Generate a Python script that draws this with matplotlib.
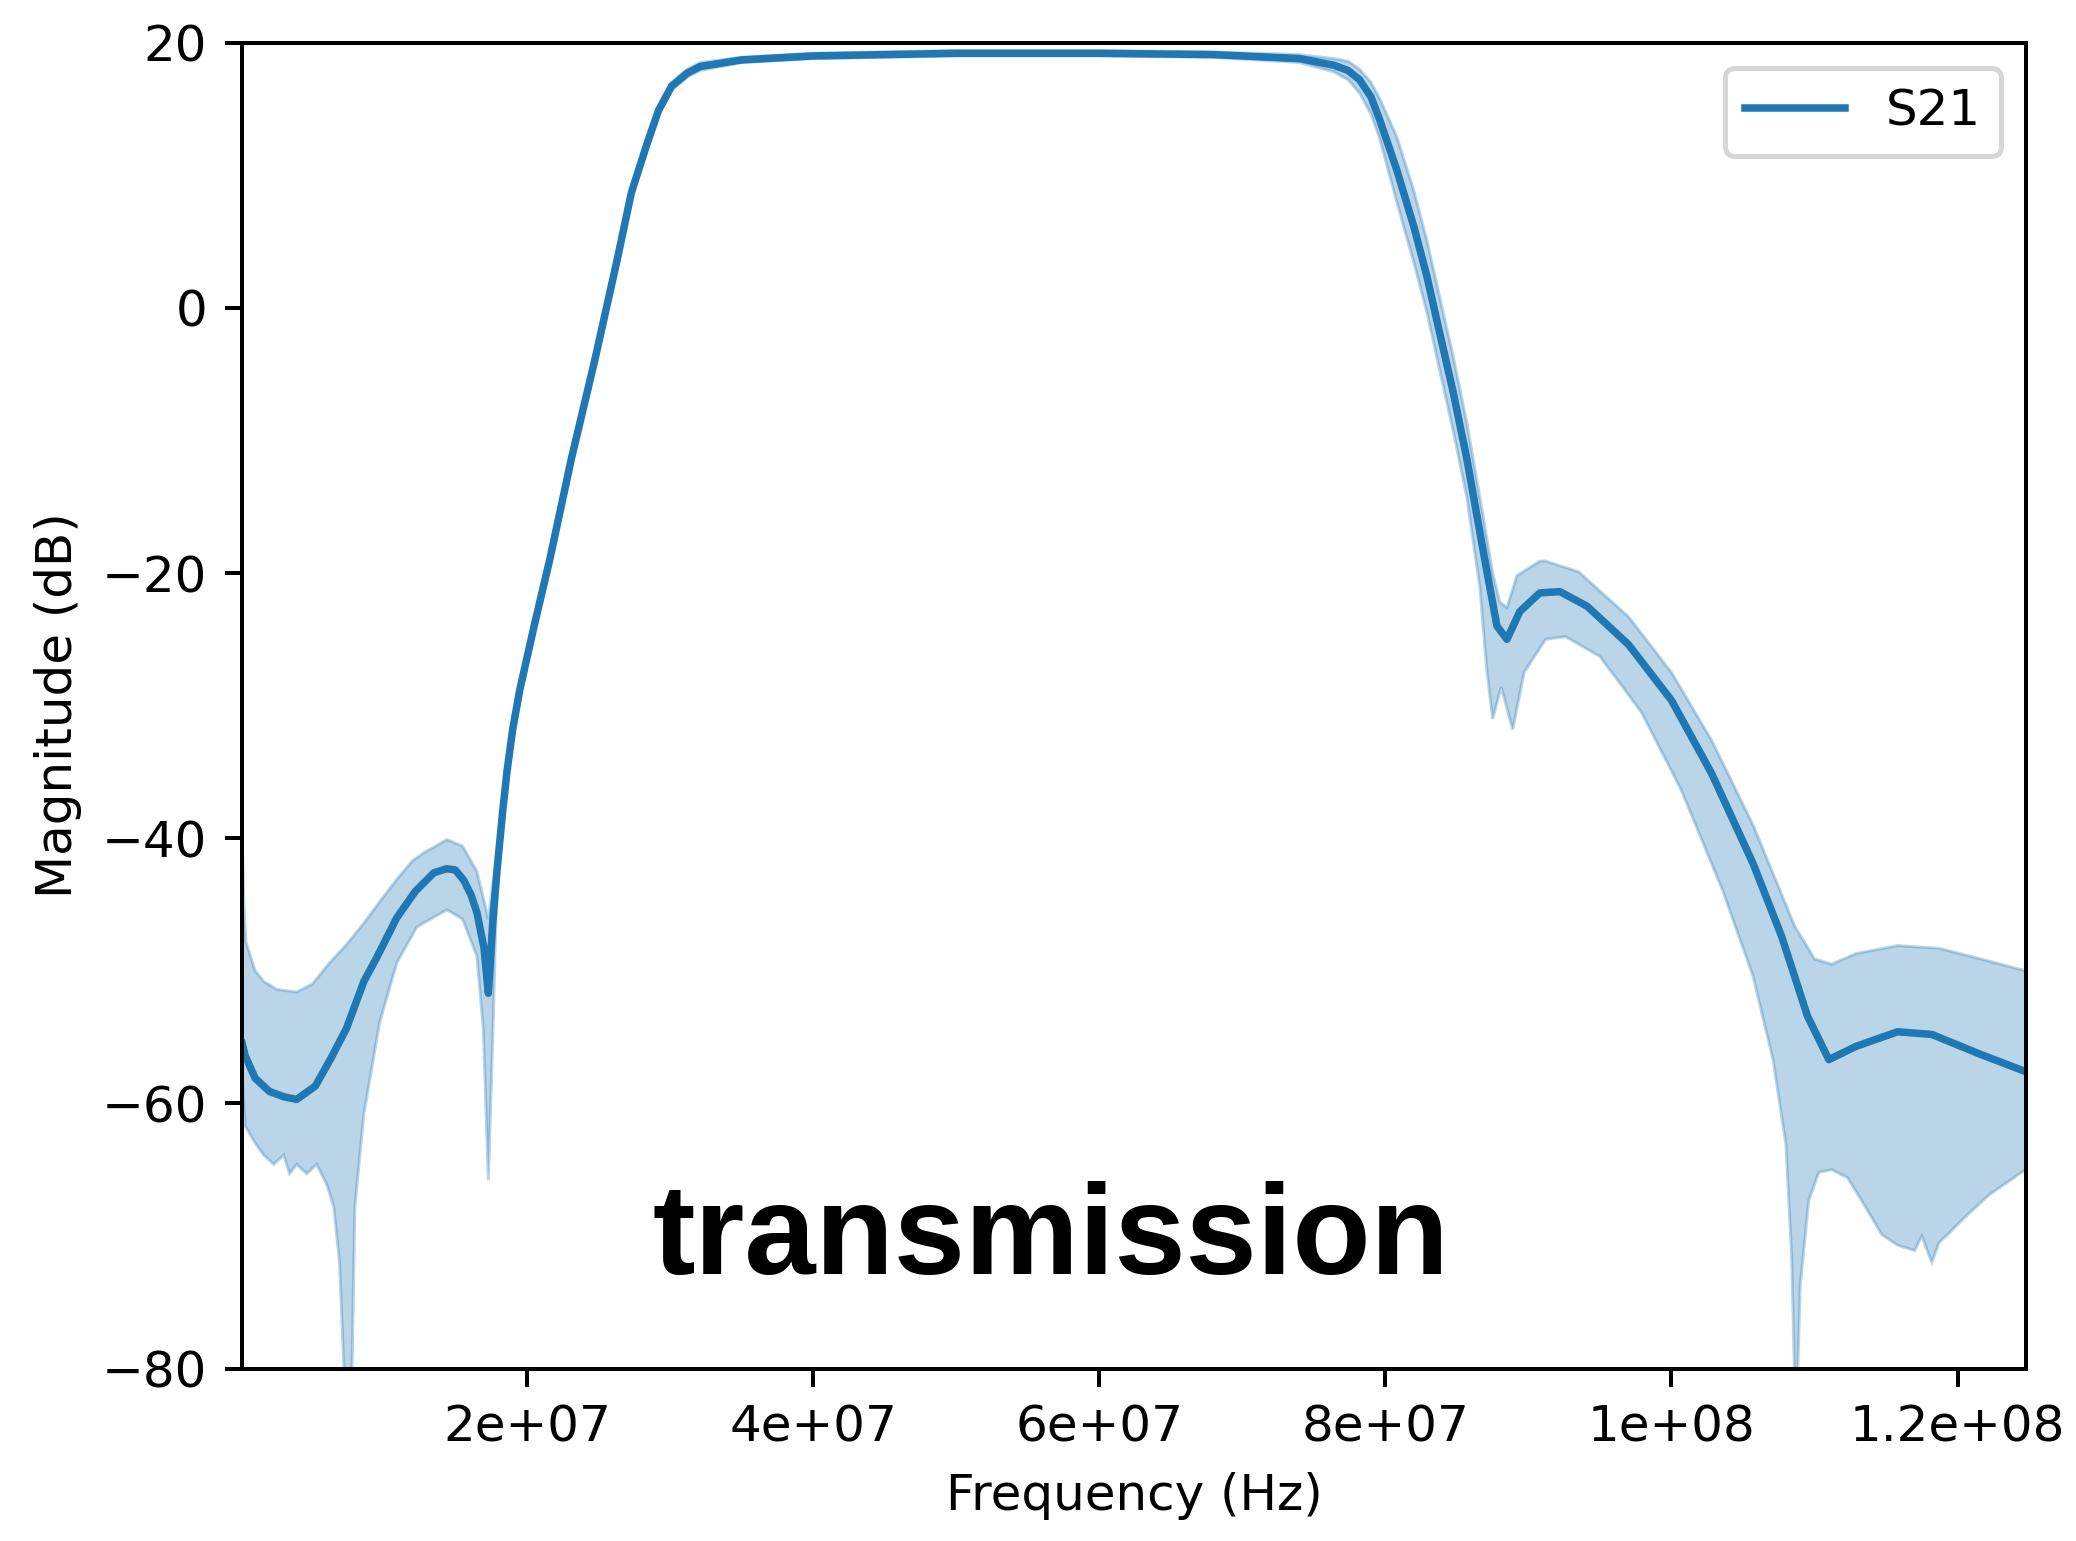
import matplotlib.pyplot as plt
import numpy as np
from matplotlib.ticker import FormatStrFormatter

# mean S21 trace (MHz, dB)
freq_mean = [0.1, 0.3, 1.0, 2.0, 3.0, 3.9, 5.2, 6.3, 7.4, 8.6, 9.5, 10.9, 12.2, 13.5, 14.4,
             15.0, 15.6, 16.1, 16.5, 17.0, 17.3, 17.6, 17.9, 18.3, 18.6, 19.0, 19.5, 20.5,
             21.6, 23.1, 24.75, 26.3, 27.3, 28.4, 29.2, 30.1, 31.2, 32.1, 35.0, 40.0, 50.0,
             60.0, 68.0, 74.0, 76.4, 77.4, 78.2, 79.0, 79.6, 80.8, 82.0, 82.9, 83.8, 84.75,
             85.7, 86.85, 87.8, 88.5, 89.4, 90.8, 92.2, 94.1, 95.0, 97.0, 100.0, 102.8, 105.7,
             107.7, 109.5, 111.0, 112.9, 115.8, 118.2, 121.6, 124.75]
s21_mean = [-55.5, -56.4, -58.1, -59.1, -59.5, -59.7, -58.7, -56.6, -54.3, -50.8, -49.0,
            -46.0, -44.0, -42.6, -42.3, -42.4, -43.2, -44.3, -45.6, -48.3, -51.7, -46.5,
            -42.5, -38.0, -35.0, -31.8, -28.8, -24.0, -18.95, -11.4, -3.9, 3.6, 8.7, 12.4,
            14.9, 16.7, 17.7, 18.2, 18.7, 19.0, 19.2, 19.2, 19.1, 18.8, 18.3, 17.9, 17.2,
            15.9, 14.2, 10.4, 6.1, 2.4, -1.9, -6.4, -11.4, -18.4, -24.0, -25.0, -22.9, -21.5,
            -21.4, -22.5, -23.4, -25.4, -29.6, -35.1, -41.9, -47.4, -53.4, -56.7, -55.7,
            -54.6, -54.8, -56.3, -57.6]

# upper edge of spread
freq_upper = [0.1, 0.2, 0.35, 1.0, 1.6, 2.5, 3.9, 5.0, 6.2, 7.4, 8.6, 9.7, 10.9, 12.0, 12.8,
              14.4, 15.5, 16.5, 17.06, 17.3, 17.6, 17.9, 18.3, 18.6, 19.0, 19.5, 20.5, 21.6,
              23.1, 24.75, 26.3, 27.3, 28.4, 29.2, 30.1, 31.2, 32.1, 35.0, 40.0, 50.0, 60.0,
              68.0, 74.0, 76.4, 77.4, 78.2, 79.0, 79.6, 80.8, 82.0, 82.9, 83.8, 84.75, 85.7,
              86.85, 87.5, 88.0, 88.5, 89.2, 90.8, 91.2, 93.5, 97.0, 100.0, 102.8, 105.7,
              108.6, 110.0, 111.2, 112.9, 115.8, 118.7, 121.6, 124.75]
s21_upper = [-40.0, -44.5, -47.8, -50.0, -50.8, -51.4, -51.6, -51.0, -49.4, -48.0, -46.4,
             -44.8, -43.1, -41.7, -41.1, -40.1, -40.6, -42.5, -45.0, -46.1, -43.5, -41.7,
             -37.4, -34.4, -31.3, -28.3, -23.5, -18.5, -11.0, -3.5, 4.0, 9.1, 12.8, 15.2,
             17.0, 18.0, 18.5, 18.9, 19.2, 19.4, 19.4, 19.3, 19.1, 18.8, 18.6, 18.0, 17.0,
             15.8, 12.9, 8.8, 5.1, 0.8, -3.7, -8.7, -15.8, -20.0, -22.2, -22.6, -20.2, -19.1,
             -19.1, -19.9, -23.3, -27.5, -32.6, -39.0, -46.6, -49.1, -49.5, -48.7, -48.1,
             -48.3, -49.1, -50.0]

# lower edge of spread
freq_lower = [0.1, 0.3, 1.0, 1.6, 2.3, 3.0, 3.4, 3.9, 4.6, 5.3, 6.0, 6.5, 6.9, 7.28, 7.74,
              7.97, 8.6, 9.7, 10.9, 12.3, 14.4, 15.5, 16.5, 16.95, 17.3, 17.64, 17.9, 18.3,
              18.6, 19.0, 19.5, 20.5, 21.6, 23.1, 24.75, 26.3, 27.3, 28.4, 29.2, 30.1, 31.2,
              32.1, 35.0, 40.0, 50.0, 60.0, 68.0, 74.0, 76.4, 77.4, 78.2, 79.0, 79.6, 80.8,
              82.0, 82.9, 83.8, 84.75, 85.7, 86.6, 87.1, 87.5, 88.1, 88.9, 89.7, 91.2, 92.6,
              95.0, 97.9, 100.7, 103.6, 105.7, 107.1, 108.0, 108.4, 108.7, 109.0, 109.6, 110.3,
              111.2, 112.3, 113.5, 114.7, 115.8, 117.0, 117.5, 118.2, 118.7, 119.3, 120.5,
              122.2, 124.75]
s21_lower = [-58.0, -61.7, -63.0, -63.9, -64.6, -63.9, -65.3, -64.6, -65.3, -64.6, -66.1,
             -67.8, -72.0, -82.0, -82.0, -67.8, -60.8, -53.9, -49.4, -46.7, -45.4, -46.1,
             -48.9, -54.4, -65.8, -53.9, -43.4, -38.6, -35.6, -32.3, -29.3, -24.5, -19.4,
             -11.8, -4.3, 3.2, 8.3, 12.0, 14.6, 16.4, 17.4, 17.9, 18.5, 18.8, 19.0, 19.0,
             18.9, 18.5, 17.8, 17.2, 16.2, 14.6, 12.8, 8.0, 3.4, -0.3, -4.7, -9.3, -14.3,
             -21.0, -27.4, -31.0, -28.6, -31.8, -27.5, -25.0, -24.8, -26.3, -30.5, -36.4,
             -44.0, -50.4, -56.7, -63.1, -71.5, -85.0, -73.7, -67.3, -65.2, -65.0, -65.6,
             -67.7, -69.9, -70.7, -71.1, -70.0, -72.0, -70.5, -69.9, -68.6, -66.9, -65.0]

fm = np.array(freq_mean) * 1e6
fu = np.array(freq_upper) * 1e6
fl = np.array(freq_lower) * 1e6

fig = plt.figure(figsize=(2076 / 360, 1541 / 360), dpi=360)
ax = fig.add_axes([0.1167, 0.1119, 0.8590, 0.8604])

ax.fill(np.concatenate([fu, fl[::-1]]), np.concatenate([s21_upper, s21_lower[::-1]]),
        color='tab:blue', alpha=0.3, linewidth=0.6)
ax.plot(fm, s21_mean, color='tab:blue', label='S21')

ax.set_xlim(fm[0], fm[-1])
ax.set_ylim(-80, 20)
ax.xaxis.set_major_formatter(FormatStrFormatter('%g'))
ax.set_xlabel('Frequency (Hz)')
ax.set_ylabel('Magnitude (dB)')
ax.legend(loc='upper right')

fig.text(0.506, 0.173, 'transmission', fontsize=25.6, fontweight='bold',
         family='Liberation Sans', ha='center', va='baseline')

fig.savefig('out.png', dpi=360)
